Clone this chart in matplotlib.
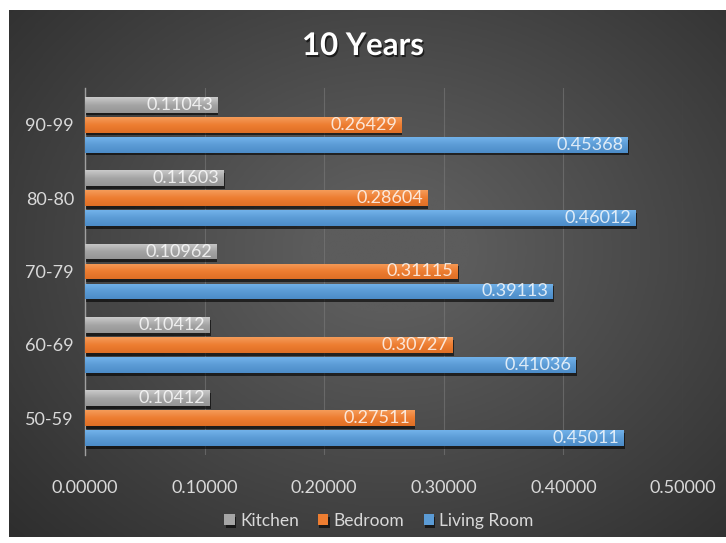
import matplotlib.pyplot as plt
import matplotlib.patheffects as pe
import numpy as np
from matplotlib.colors import LinearSegmentedColormap

plt.rcParams["font.family"] = ["Lato", "DejaVu Sans"]

# data
age_groups = ["50-59", "60-69", "70-79", "80-80", "90-99"]
kitchen = [0.10412, 0.10412, 0.10962, 0.11603, 0.11043]
bedroom = [0.27511, 0.30727, 0.31115, 0.28604, 0.26429]
living_room = [0.45011, 0.41036, 0.39113, 0.46012, 0.45368]
series_names = ["Kitchen", "Bedroom", "Living Room"]
x_ticks = [0.0, 0.1, 0.2, 0.3, 0.4, 0.5]

# (base colour, light top, dark bottom) for each series
palette = [
    ("#a5a5a5", "#cacaca", "#959595"),
    ("#ed7d31", "#f59c5a", "#df6f25"),
    ("#5b9bd5", "#72b2ea", "#4c8cc8"),
]

W, H = 726, 543
fig = plt.figure(figsize=(W / 100, H / 100), dpi=100)
fig.patch.set_facecolor("white")

# dark radial background panel
bg = fig.add_axes([0, 0, 1, 1])
bg.set_xlim(0, W)
bg.set_ylim(H, 0)
bg.axis("off")
px, py = np.meshgrid(np.linspace(9, W, 400), np.linspace(10, 537, 300))
r = np.sqrt(((px - 390) / 520) ** 2 + ((py - 250) / 420) ** 2)
shade = np.clip(1 - r, 0, 1)
bg_cmap = LinearSegmentedColormap.from_list("bg", ["#2e2e2e", "#5c5c5c"])
bg.imshow(shade, cmap=bg_cmap, extent=(9, W, 537, 10), aspect="auto",
          vmin=0, vmax=0.85, interpolation="bilinear")

ax = fig.add_axes([85 / W, 1 - 455 / H, (683 - 85) / W, (455 - 88) / H])
ax.set_facecolor("none")

y = np.arange(len(age_groups))
bar_h = 0.215
offsets = [0.272, 0.0, -0.272]
grad = np.linspace(1, 0, 64).reshape(-1, 1)

for values, off, (base, top, bottom), name in zip(
        [kitchen, bedroom, living_room], offsets, palette, series_names):
    bars = ax.barh(y + off, values, height=bar_h, color=base, label=name,
                   zorder=3, linewidth=0)
    cmap = LinearSegmentedColormap.from_list(name, [bottom, base, top])
    for b, v in zip(bars, values):
        b.set_path_effects([pe.SimplePatchShadow(offset=(1, -2), shadow_rgbFace="black",
                                                 alpha=0.6), pe.Normal()])
        x0, y0 = b.get_x(), b.get_y()
        im = ax.imshow(grad, cmap=cmap, aspect="auto", zorder=4,
                       extent=(x0, x0 + b.get_width(), y0, y0 + b.get_height()))
        im.set_clip_path(b)
        ax.annotate(f"{v:.5f}", xy=(v, y0 + b.get_height() / 2), xytext=(-3, 0),
                    textcoords="offset points", ha="right", va="center",
                    color="white", alpha=0.8, fontsize=13, zorder=5)

ax.set_xlim(0, 0.5)
ax.set_ylim(-0.5, len(age_groups) - 0.5)
ax.set_xticks(x_ticks)
ax.set_xticklabels([f"{t:.5f}" for t in x_ticks])
ax.set_yticks(y)
ax.set_yticklabels(age_groups)
ax.tick_params(axis="both", length=0, colors="#d9d9d9", labelsize=13)
ax.tick_params(axis="x", pad=18)
ax.tick_params(axis="y", pad=8)
ax.grid(axis="x", color="#7a7a7a", linewidth=0.8, alpha=0.6, zorder=0)
for s in ["top", "right", "bottom"]:
    ax.spines[s].set_visible(False)
ax.spines["left"].set_color("#a0a0a0")
ax.spines["left"].set_linewidth(1)

fig.text(0.5, 1 - 46 / H, "10 Years", ha="center", va="center", color="white",
         fontsize=22.5, fontweight="bold",
         path_effects=[pe.SimplePatchShadow(offset=(1, -1.5), shadow_rgbFace="black",
                                            alpha=0.6), pe.Normal()])

handles, labels = ax.get_legend_handles_labels()
leg = fig.legend(handles, labels, loc="center", bbox_to_anchor=(379 / W, 1 - 521 / H),
                 ncol=3, frameon=False, fontsize=12.5, labelcolor="#d9d9d9",
                 handlelength=0.6, handleheight=0.6, handletextpad=0.3,
                 columnspacing=1.1)

fig.savefig("out.png", dpi=100)
